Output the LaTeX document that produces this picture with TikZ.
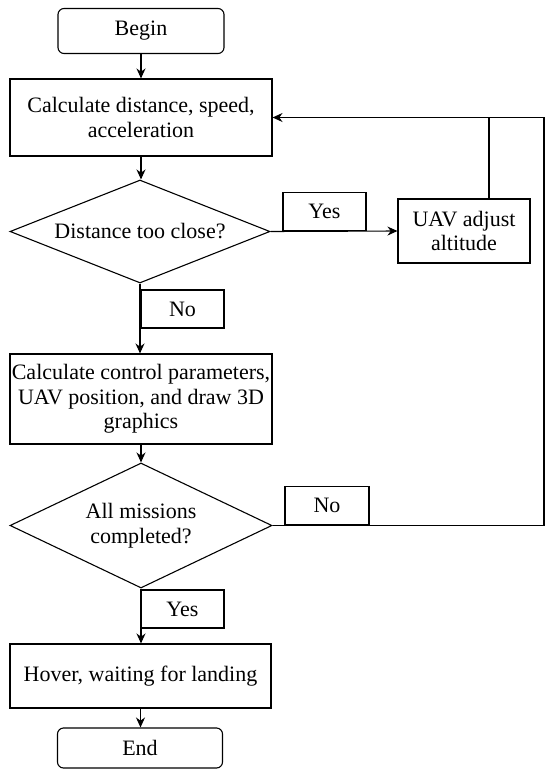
\documentclass[tikz,border=0pt]{standalone}
\usepackage{fontspec}
\setmainfont{Liberation Serif}
\usetikzlibrary{shapes.geometric,arrows.meta}
\begin{document}
\begin{tikzpicture}[x=1pt,y=-1pt,
  every node/.style={font=\fontsize{22}{24.5}\selectfont, text=black},
  box/.style={draw, line width=1.1pt, rectangle, align=center, inner sep=0pt},
  term/.style={box, rounded corners=6pt},
  dec/.style={draw, line width=1.1pt, diamond, aspect=2.5, align=center, inner sep=0pt},
  lab/.style={draw, line width=1.1pt, rectangle, inner sep=0pt, minimum width=83pt, minimum height=38pt},
  conn/.style={line width=1.1pt},
  arr/.style={conn, -{Stealth[length=10pt,width=9pt]}}]
\useasboundingbox (0,0) rectangle (550,774);

\node[term, minimum width=166pt, minimum height=45pt] (begin) at (141,31) {Begin};
\node[box, minimum width=262pt, minimum height=77pt] (b1) at (141,117.5) {Calculate distance, speed,\\acceleration};
\node[dec, minimum width=260pt, minimum height=103pt] (d1) at (140,231.5) {Distance too close?};
\node[box, minimum width=132pt, minimum height=64pt] (uav) at (464,231) {UAV adjust\\altitude};
\node[lab] (yes1) at (324.5,211.5) {Yes};
\node[lab] (no1) at (182.5,309) {No};
\node[box, minimum width=262pt, minimum height=90pt] (b2) at (141,399) {Calculate control parameters,\\UAV position, and draw 3D\\graphics};
\node[dec, aspect=2.1, minimum width=262pt, minimum height=125pt] (d2) at (141,525.5) {All missions\\completed?};
\node[lab, minimum width=84pt] (no2) at (327,505.5) {No};
\node[lab] (yes2) at (182.5,609) {Yes};
\node[box, minimum width=261pt, minimum height=64pt] (b3) at (140.5,676) {Hover, waiting for landing};
\node[term, minimum width=165pt, minimum height=40pt] (end) at (140,748) {End};

\coordinate (c1) at (489,117.5);
\coordinate (c2) at (544,117.5);

\draw[arr] (begin) -- (b1);
\draw[arr] (b1) -- (b1.south |- d1.north);
\draw[arr] (d1.east) -- (uav.west);
\draw[conn] (c1 |- uav.north) -- (c1);
\draw[arr] (d2.east) -- (d2.east -| c2) -- (c2) -- (b1.east);
\draw[arr] (d1.south) -- (d1.south |- b2.north);
\draw[arr] (b2.south) -- (b2.south |- d2.north);
\draw[arr] (d2.south) -- (d2.south |- b3.north);
\draw[arr] (b3.south) -- (b3.south |- end.north);
\end{tikzpicture}
\end{document}
